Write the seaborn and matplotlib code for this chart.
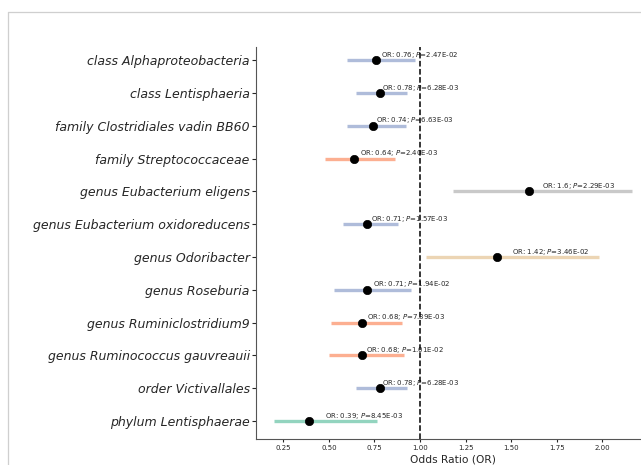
import matplotlib
matplotlib.use("Agg")
import matplotlib.pyplot as plt
import seaborn as sns
import pandas as pd
from matplotlib.lines import Line2D

taxa = [
    "class Alphaproteobacteria", "class Lentisphaeria", "family Clostridiales vadin BB60",
    "family Streptococcaceae", "genus Eubacterium eligens", "genus Eubacterium oxidoreducens",
    "genus Odoribacter", "genus Roseburia", "genus Ruminiclostridium9",
    "genus Ruminococcus gauvreauii", "order Victivallales", "phylum Lentisphaerae",
]
odds_ratio = [0.76, 0.78, 0.74, 0.64, 1.60, 0.71, 1.42, 0.71, 0.68, 0.68, 0.78, 0.39]
ci_low = [0.598, 0.649, 0.598, 0.479, 1.179, 0.579, 1.031, 0.530, 0.512, 0.501, 0.649, 0.199]
ci_high = [0.973, 0.930, 0.921, 0.863, 2.161, 0.881, 1.980, 0.951, 0.901, 0.911, 0.930, 0.762]
p_values = ["2.47E-02", "6.28E-03", "6.63E-03", "2.40E-03", "2.29E-03", "1.57E-03",
            "3.46E-02", "1.94E-02", "7.39E-03", "1.01E-02", "6.28E-03", "8.45E-03"]
or_labels = ["0.76", "0.78", "0.74", "0.64", "1.6", "0.71", "1.42", "0.71", "0.68", "0.68", "0.78", "0.39"]
groups = ["blue", "blue", "blue", "orange", "gray", "blue", "tan", "blue", "orange", "orange", "blue", "green"]

palette = {"green": "#66c2a5", "orange": "#fc8d62", "blue": "#8da0cb", "tan": "#e5c494", "gray": "#b3b3b3"}

df = pd.DataFrame({"taxon": taxa, "OR": odds_ratio, "lo": ci_low, "hi": ci_high,
                   "p": p_values, "orl": or_labels, "grp": groups})
df["pos"] = range(len(df))

sns.set_style("ticks")
fig = plt.figure(figsize=(6.41, 4.65), dpi=100)
W, H = 641, 465
ax = fig.add_axes([256 / W, (H - 439) / H, (650 - 256) / W, (439 - 47) / H])

for _, r in df.iterrows():
    ax.hlines(r["pos"], r["lo"], r["hi"], colors=palette[r["grp"]], alpha=0.7, lw=2.4, zorder=1)

sns.scatterplot(data=df, x="OR", y="pos", color="black", s=36, edgecolor="black",
                linewidth=0.5, zorder=3, ax=ax, legend=False)

for _, r in df.iterrows():
    mid = (r["lo"] + r["hi"]) / 2
    ax.text(mid, r["pos"] - 0.1, f"OR: {r['orl']}; $P$={r['p']}", fontsize=5,
            ha="left", va="baseline", color="#262626", zorder=3)

ax.axvline(1.0, color="black", ls="--", lw=1.1, zorder=4)

ax.set_xlim(0.1, 2.262)
ax.set_ylim(11.55, -0.4)
ax.set_yticks(df["pos"])
ax.set_yticklabels(df["taxon"], fontsize=9, style="italic")
ax.set_xticks([0.25, 0.5, 0.75, 1.0, 1.25, 1.5, 1.75, 2.0, 2.25])
ax.set_xticklabels(["0.25", "0.50", "0.75", "1.00", "1.25", "1.50", "1.75", "2.00", "2.25"], fontsize=5)
ax.tick_params(axis="y", length=3, pad=1.5)
ax.tick_params(axis="x", length=2, pad=2)
ax.set_xlabel("Odds Ratio (OR)", fontsize=7.7, labelpad=3)
ax.set_ylabel("")
sns.despine(ax=ax)
for s in ["left", "bottom"]:
    ax.spines[s].set_color("#555555")

# outer light frame
fig.add_artist(Line2D([7.5 / W, 7.5 / W], [0, 1 - 12.5 / H], transform=fig.transFigure,
                      color="#cfcfcf", lw=0.9))
fig.add_artist(Line2D([7.5 / W, 1], [1 - 12.5 / H, 1 - 12.5 / H], transform=fig.transFigure,
                      color="#cfcfcf", lw=0.9))

fig.savefig("out.png", dpi=100)
